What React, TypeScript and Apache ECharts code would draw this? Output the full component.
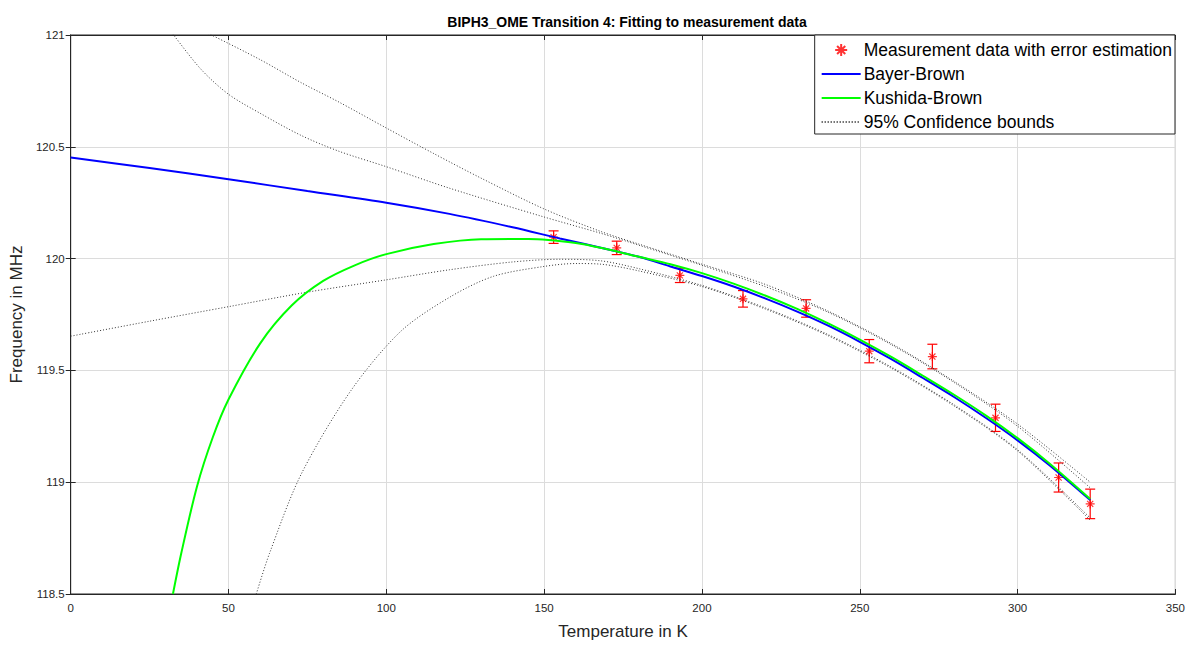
import React, { useEffect, useRef } from "react";
import * as echarts from "echarts";

// Measurement data
const temps = [153, 173, 193, 213, 233, 253, 273, 293, 313, 323];
const freqs = [120.096, 120.048, 119.925, 119.82, 119.777, 119.586, 119.562, 119.288, 119.021, 118.903];
const errs = [0.028, 0.03, 0.032, 0.037, 0.039, 0.052, 0.055, 0.061, 0.065, 0.066];

// Bayer-Brown fit
const bayerT = [0, 25, 50, 75, 100, 120, 140, 155, 170, 180, 190, 200, 210, 220, 230, 240, 250, 260, 270, 280, 290, 300, 310, 323];
const bayerF = [120.452, 120.405, 120.355, 120.302, 120.25, 120.2, 120.14, 120.09, 120.042, 120.008, 119.965, 119.922, 119.875, 119.822, 119.764, 119.7, 119.628, 119.55, 119.466, 119.38, 119.287, 119.187, 119.077, 118.92];

// Kushida-Brown fit
const kushT = [32.4, 35, 40, 45, 50, 60, 70, 80, 90, 100, 115, 130, 145, 160, 170, 180, 190, 200, 210, 220, 230, 240, 250, 260, 270, 280, 290, 300, 310, 323];
const kushF = [118.5, 118.68, 118.98, 119.2, 119.37, 119.62, 119.79, 119.9, 119.97, 120.02, 120.065, 120.087, 120.088, 120.07, 120.042, 120.008, 119.975, 119.935, 119.888, 119.835, 119.776, 119.71, 119.638, 119.56, 119.476, 119.39, 119.298, 119.197, 119.085, 118.925];

// 95% confidence bounds
const bbUpT = [40, 44.6, 60, 73, 85, 100, 115, 130, 150, 168, 180, 200, 220, 240, 260, 280, 300, 323];
const bbUpF = [121.03, 121.0, 120.89, 120.787, 120.7, 120.584, 120.47, 120.36, 120.222, 120.121, 120.065, 119.975, 119.885, 119.765, 119.62, 119.45, 119.26, 119.0];
const bbLoT = [0, 25, 50, 75, 100, 120, 140, 155, 168, 180, 200, 220, 240, 260, 280, 300, 323];
const bbLoF = [119.653, 119.72, 119.785, 119.85, 119.905, 119.95, 119.985, 119.997, 119.99, 119.955, 119.88, 119.78, 119.66, 119.515, 119.345, 119.145, 118.84];
const kbUpT = [30, 32.6, 41.4, 50, 60.4, 73, 85, 100, 120, 150, 168, 180, 200, 220, 240, 260, 280, 300, 323];
const kbUpF = [121.05, 121.0, 120.845, 120.735, 120.647, 120.551, 120.48, 120.411, 120.315, 120.186, 120.113, 120.06, 119.97, 119.875, 119.76, 119.615, 119.445, 119.25, 118.975];
const kbLoT = [58.8, 63, 73, 88.8, 104.6, 120.4, 134, 150, 160, 168, 180, 200, 220, 240, 260, 280, 300, 323];
const kbLoF = [118.5, 118.682, 119.035, 119.41, 119.675, 119.83, 119.921, 119.965, 119.978, 119.975, 119.945, 119.875, 119.775, 119.655, 119.51, 119.34, 119.14, 118.83];

const xTicks = [0, 50, 100, 150, 200, 250, 300, 350];
const yTicks = [118.5, 119, 119.5, 120, 120.5, 121];

const FONT = "'Liberation Sans', Arial, sans-serif";
const ASTERISK = "path://M5,0L5,10M0,5L10,5M1.6,1.6L8.4,8.4M1.6,8.4L8.4,1.6";

const zip = (a: number[], b: number[]) => a.map((v, i) => [v, b[i]]);

export default function App() {
  const ref = useRef<HTMLDivElement>(null);
  useEffect(() => {
    if (!ref.current) return;
    const chart = echarts.init(ref.current, undefined, { renderer: "svg" });
    const boundStyle = { color: "#333333", width: 1, type: [1, 2] as any };
    const boundSeries = [
      zip(bbUpT, bbUpF),
      zip(bbLoT, bbLoF),
      zip(kbUpT, kbUpF),
      zip(kbLoT, kbLoF),
    ].map((d) => ({
      name: "95% Confidence bounds",
      type: "line",
      data: d,
      smooth: 0.3,
      symbol: "none",
      lineStyle: boundStyle,
      itemStyle: { color: "#333333" },
      z: 3,
    }));
    const axisLabel = { color: "#262626", fontSize: 11.5, fontFamily: FONT };
    const hidden = { opacity: 0 };
    const option: any = {
      animation: false,
      backgroundColor: "#ffffff",
      title: {
        text: "BIPH3_OME Transition 4: Fitting to measurement data",
        left: 622,
        textAlign: "center",
        top: 10,
        textStyle: { fontSize: 14, fontWeight: "bold", color: "#000", fontFamily: FONT },
      },
      grid: {
        left: 69,
        right: 12,
        top: 35,
        bottom: 44,
        show: true,
        borderColor: "#262626",
        borderWidth: 1,
        backgroundColor: "#fff",
      },
      legend: {
        orient: "vertical",
        right: 13,
        top: 35,
        align: "left",
        backgroundColor: "#fff",
        borderColor: "#262626",
        borderWidth: 1,
        borderRadius: 0,
        padding: [6, 3, 3, 6],
        itemGap: 6,
        itemWidth: 39,
        itemHeight: 12,
        textStyle: { fontSize: 17.5, color: "#000", fontFamily: FONT, padding: [0, 0, 0, -2] },
        data: [
          { name: "Measurement data with error estimation" },
          { name: "Bayer-Brown", itemStyle: hidden },
          { name: "Kushida-Brown", itemStyle: hidden },
          { name: "95% Confidence bounds", itemStyle: hidden },
        ],
      },
      xAxis: [
        {
          type: "value",
          min: 0,
          max: 350,
          interval: 50,
          name: "Temperature in K",
          nameLocation: "middle",
          nameGap: 29,
          nameTextStyle: { fontSize: 17, color: "#262626", fontFamily: FONT },
          axisLine: { show: true, lineStyle: { color: "#262626" } },
          axisTick: { show: true, inside: true, length: 5, lineStyle: { color: "#262626" } },
          axisLabel: { ...axisLabel, margin: 8, customValues: xTicks },
          splitLine: { show: true, lineStyle: { color: "#dcdcdc", width: 1 } },
        },
        {
          type: "value",
          position: "top",
          min: 0,
          max: 350,
          interval: 50,
          axisLine: { show: true, lineStyle: { color: "#262626" } },
          axisTick: { show: true, inside: true, length: 5, lineStyle: { color: "#262626" } },
          axisLabel: { show: false },
          splitLine: { show: false },
        },
      ],
      yAxis: [
        {
          type: "value",
          min: 118.5,
          max: 121,
          interval: 0.5,
          name: "Frequency in MHz",
          nameLocation: "middle",
          nameGap: 40,
          nameTextStyle: { fontSize: 17, color: "#262626", fontFamily: FONT },
          axisLine: { show: true, lineStyle: { color: "#262626" } },
          axisTick: { show: true, inside: true, length: 5, lineStyle: { color: "#262626" } },
          axisLabel: { ...axisLabel, margin: 6, customValues: yTicks },
          splitLine: { show: true, lineStyle: { color: "#dcdcdc", width: 1 } },
        },
        {
          type: "value",
          position: "right",
          min: 118.5,
          max: 121,
          interval: 0.5,
          axisLine: { show: true, lineStyle: { color: "#262626" } },
          axisTick: { show: true, inside: true, length: 5, lineStyle: { color: "#262626" } },
          axisLabel: { show: false },
          splitLine: { show: false },
        },
      ],
      series: [
        {
          name: "errorbars",
          type: "custom",
          data: temps.map((t, i) => [t, freqs[i], errs[i]]),
          renderItem: (params: any, api: any) => {
            const x = api.value(0);
            const y = api.value(1);
            const e = api.value(2);
            const top = api.coord([x, y + e]);
            const bot = api.coord([x, y - e]);
            const hw = 5;
            const st = { stroke: "#ff0000", lineWidth: 1.2 };
            return {
              type: "group",
              children: [
                { type: "line", shape: { x1: top[0], y1: top[1], x2: bot[0], y2: bot[1] }, style: st },
                { type: "line", shape: { x1: top[0] - hw, y1: top[1], x2: top[0] + hw, y2: top[1] }, style: st },
                { type: "line", shape: { x1: bot[0] - hw, y1: bot[1], x2: bot[0] + hw, y2: bot[1] }, style: st },
              ],
            };
          },
          z: 2,
        },
        {
          name: "Measurement data with error estimation",
          type: "scatter",
          data: zip(temps, freqs),
          symbol: ASTERISK,
          symbolSize: 9,
          itemStyle: { color: "rgba(0,0,0,0)", borderColor: "#ff0000", borderWidth: 1.2 },
          z: 4,
        },
        {
          name: "Bayer-Brown",
          type: "line",
          data: zip(bayerT, bayerF),
          smooth: 0.3,
          symbol: "none",
          lineStyle: { color: "#0000ff", width: 2 },
          itemStyle: { color: "#0000ff" },
          z: 5,
        },
        {
          name: "Kushida-Brown",
          type: "line",
          data: zip(kushT, kushF),
          smooth: 0.3,
          symbol: "none",
          lineStyle: { color: "#00ff00", width: 2 },
          itemStyle: { color: "#00ff00" },
          z: 6,
        },
        ...boundSeries,
      ],
    };
    chart.setOption(option);
    return () => chart.dispose();
  }, []);
  return (
    <div
      ref={ref}
      style={{ position: "fixed", left: 0, top: 0, width: 1188, height: 645, background: "#fff" }}
    />
  );
}
